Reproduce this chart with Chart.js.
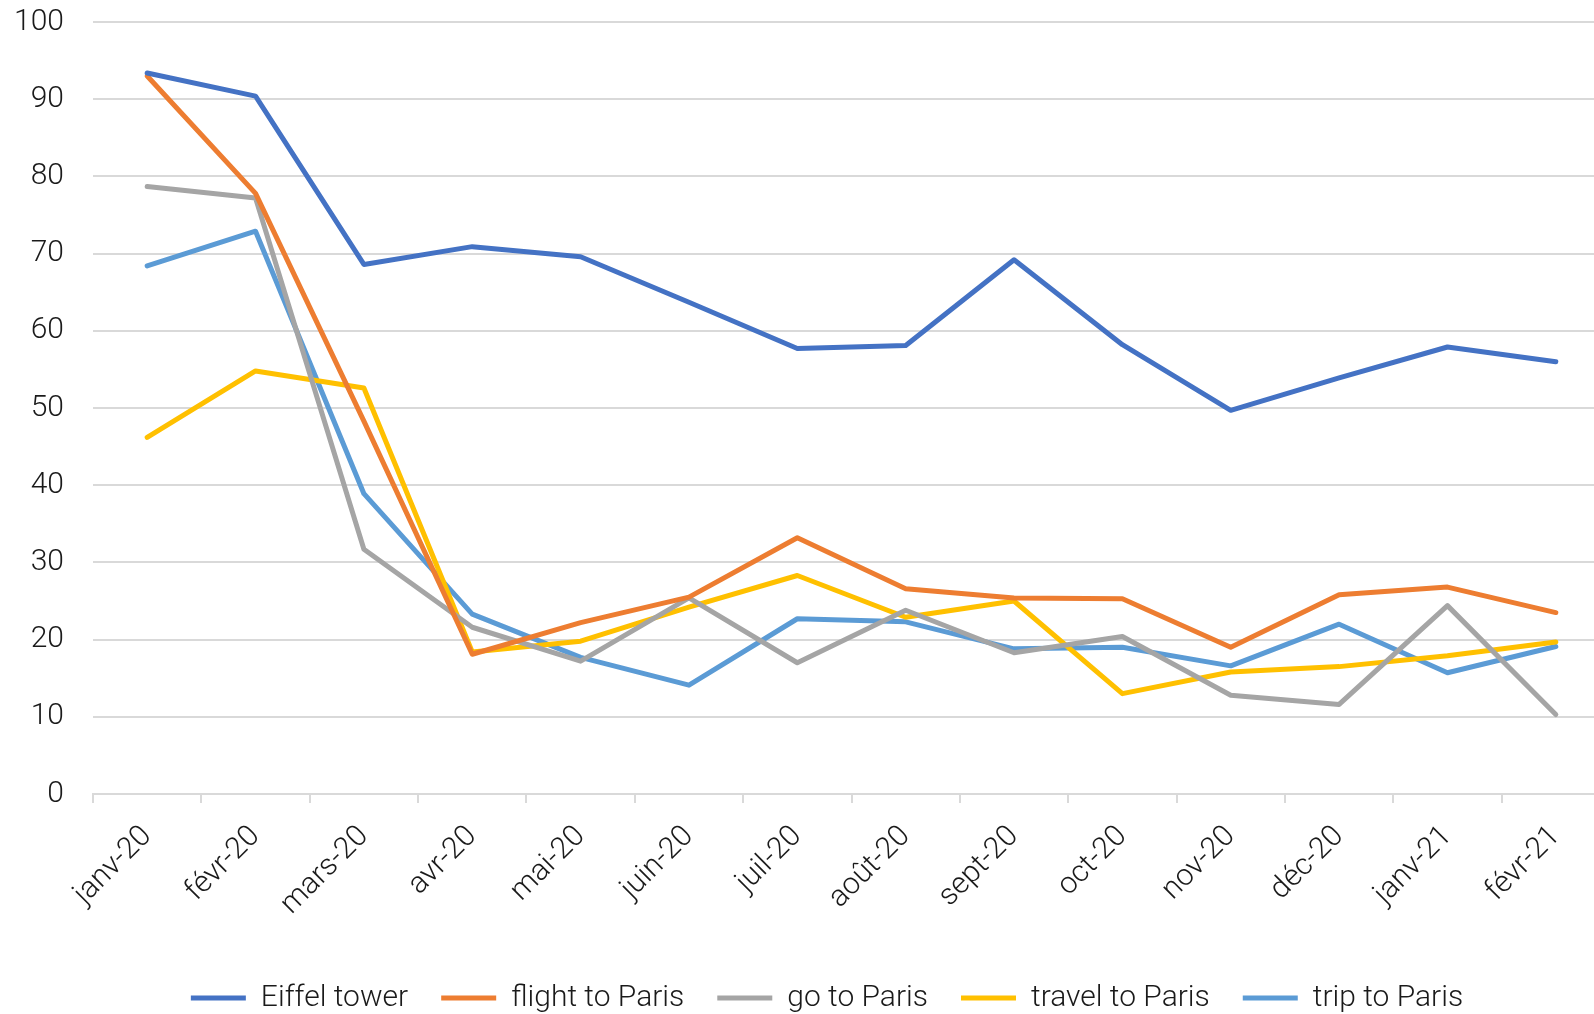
<!DOCTYPE html>
<html>
<head>
<meta charset="utf-8">
<script src="https://cdn.jsdelivr.net/npm/chart.js@4"></script>
<style>
    html, body { margin: 0; padding: 0; background: #fff; overflow: hidden; }
    #wrap { position: relative; width: 1652px; height: 1014px; }
</style>
</head>
<body>
<div id="wrap"><canvas id="myChart"></canvas></div>
<script>
//categories and series
const months = ['janv-20', 'févr-20', 'mars-20', 'avr-20', 'mai-20', 'juin-20', 'juil-20', 'août-20', 'sept-20', 'oct-20', 'nov-20', 'déc-20', 'janv-21', 'févr-21'];
const eiffelTower = [93.4, 90.4, 68.6, 70.9, 69.6, 63.7, 57.7, 58.1, 69.2, 58.2, 49.7, 53.9, 57.9, 56.0];
const flightToParis = [93.0, 77.8, 48.3, 18.1, 22.2, 25.5, 33.2, 26.6, 25.4, 25.3, 19.0, 25.8, 26.8, 23.5];
const goToParis = [78.7, 77.2, 31.7, 21.6, 17.2, 25.4, 17.0, 23.8, 18.3, 20.4, 12.8, 11.6, 24.4, 10.3];
const travelToParis = [46.2, 54.8, 52.6, 18.4, 19.8, 24.2, 28.3, 22.9, 25.0, 13.0, 15.8, 16.5, 17.9, 19.7];
const tripToParis = [68.4, 72.9, 38.9, 23.3, 17.7, 14.1, 22.7, 22.3, 18.8, 19.0, 16.6, 22.0, 15.7, 19.1];
const yTicks = [0, 10, 20, 30, 40, 50, 60, 70, 80, 90, 100];

const seriesNames = ['Eiffel tower', 'flight to Paris', 'go to Paris', 'travel to Paris', 'trip to Paris'];
const seriesData = [eiffelTower, flightToParis, goToParis, travelToParis, tripToParis];
const seriesColors = ['#4472C4', '#ED7D31', '#A5A5A5', '#FFC000', '#5B9BD5'];

const fontFamily = "Roboto, 'Liberation Sans', sans-serif";
const textColor = '#1a1a1a';
const gridColor = '#D9D9D9';

let datasets = [];
for (let i = 0; i < seriesNames.length; i++) {
    datasets.push({
        label: seriesNames[i],
        data: seriesData[i],
        borderColor: seriesColors[i],
        backgroundColor: seriesColors[i],
        borderWidth: 5,
        borderCapStyle: 'round',
        borderJoinStyle: 'round',
        pointRadius: 0,
        pointHoverRadius: 0,
        tension: 0,
        fill: false
    });
}

//nudge the centred legend a bit to the right, like the original
const legendShift = {
    id: 'legendShift',
    afterLayout(chart) {
        chart.legend.left += 22;
        chart.legend.right += 22;
    }
};

let chartOptions = {
    responsive: true,
    maintainAspectRatio: false,
    animation: false,
    layout: {
        padding: { top: 22, right: 42, left: 0, bottom: -9 }
    },
    plugins: {
        legend: {
            position: 'bottom',
            labels: {
                usePointStyle: true,
                pointStyle: 'line',
                pointStyleWidth: 55,
                boxHeight: 30,
                padding: 33,
                color: textColor,
                font: { family: fontFamily, size: 30, weight: 300 }
            }
        },
        tooltip: { enabled: false }
    },
    scales: {
        x: {
            offset: true,
            grid: {
                offset: true,
                drawOnChartArea: false,
                drawTicks: true,
                tickLength: 9,
                color: gridColor,
                lineWidth: 2
            },
            border: { display: true, color: gridColor, width: 2 },
            ticks: {
                autoSkip: false,
                maxRotation: 45,
                minRotation: 45,
                padding: 16,
                color: textColor,
                font: { family: fontFamily, size: 30, weight: 300 }
            },
            afterFit: function (scale) { scale.height = 156; }
        },
        y: {
            min: 0,
            max: 100,
            afterBuildTicks: function (scale) {
                scale.ticks = yTicks.map(v => ({ value: v }));
            },
            grid: {
                color: gridColor,
                lineWidth: 2,
                drawTicks: false
            },
            border: { display: false },
            ticks: {
                padding: 29,
                color: textColor,
                font: { family: fontFamily, size: 30, weight: 300 }
            },
            afterFit: function (scale) {
                scale.width = 93;
                scale.paddingTop = 0;
                scale.paddingBottom = 0;
            }
        }
    }
};

new Chart(document.getElementById('myChart'), {
    type: 'line',
    data: { labels: months, datasets: datasets },
    options: chartOptions,
    plugins: [legendShift]
});
</script>
</body>
</html>
